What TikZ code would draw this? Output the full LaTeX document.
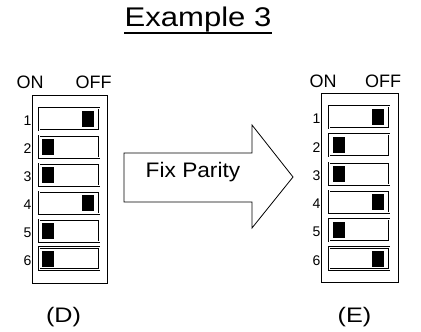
\documentclass[tikz,border=0pt]{standalone}
\usepackage{fontspec}
\setmainfont{Liberation Sans}
\usepackage{graphicx}
\usetikzlibrary{positioning}

\begin{document}
\begin{tikzpicture}[x = 1pt, y = -1pt,
    every node/.style = {inner sep = 0pt},
    panel/.style = {draw, line width = 0.8pt},
    switchbox/.style = {draw, double, double distance = 1pt, line width = 0.6pt,
        minimum width = 60pt, minimum height = 22pt},
    knob/.style = {fill = black, minimum width = 12pt, minimum height = 16pt},
    numlabel/.style = {font = \fontsize{14}{14}\selectfont},
    headlabel/.style = {anchor = base, font = \fontsize{18}{18}\selectfont},
    caption/.style = {anchor = base, font = \fontsize{21}{21}\selectfont}]
    \useasboundingbox (0,0) rectangle (421,332);
    \node[anchor = base, font = \fontsize{27}{27}\selectfont] (title) at (198,27) {\scalebox{1.15}[1]{Example 3}};
    \draw[line width = 2.2pt] ([yshift = -6pt]title.base west) -- ([yshift = -6pt]title.base east);
    % left block (D)
    \draw[panel] (32,95) rectangle (107,283);
    \node[headlabel] (onD) at (30,88) {ON};
    \node[headlabel] (offD) at (93.5,88) {OFF};
    \foreach \s [count = \i] in {1,0,0,1,0,0} {
        \node[switchbox] (swD\i) at (69,{119 + 27.9*(\i-1)}) {};
        \node[numlabel, left = 7pt of swD\i, yshift = -2pt] (nD\i) {\i};
        \ifnum\s=1
            \node[knob] (kD\i) at ([xshift = -11pt]swD\i.east) {};
        \else
            \node[knob] (kD\i) at ([xshift = 9pt]swD\i.west) {};
        \fi
    }
    \node[caption] (capD) at (63.5,322) {\scalebox{1.2}[1]{(D)}};
    % arrow
    \coordinate (a1) at (124,153);
    \coordinate (a2) at (252,153);
    \coordinate (a3) at (252,125);
    \coordinate (a4) at (293,177);
    \coordinate (a5) at (252,228);
    \coordinate (a6) at (252,202);
    \coordinate (a7) at (124,202);
    \draw[line width = 0.8pt, line join = miter] (a1) -- (a2) -- (a3) -- (a4) -- (a5) -- (a6) -- (a7) -- cycle;
    \node[anchor = base, font = \fontsize{21}{21}\selectfont] (fix) at (193,177) {\scalebox{1.08}[1]{Fix Parity}};
    % right block (E)
    \draw[panel] (321,93) rectangle (398,282);
    \node[headlabel] (onE) at (323,87) {ON};
    \node[headlabel] (offE) at (383,87) {OFF};
    \foreach \s [count = \i] in {1,0,0,1,0,1} {
        \node[switchbox] (swE\i) at (359,{117 + 28.3*(\i-1)}) {};
        \node[numlabel, left = 8pt of swE\i, yshift = -2pt] (nE\i) {\i};
        \ifnum\s=1
            \node[knob] (kE\i) at ([xshift = -11.5pt]swE\i.east) {};
        \else
            \node[knob] (kE\i) at ([xshift = 10.5pt]swE\i.west) {};
        \fi
    }
    \node[caption] (capE) at (354.5,322) {\scalebox{1.2}[1]{(E)}};
\end{tikzpicture}
\end{document}
